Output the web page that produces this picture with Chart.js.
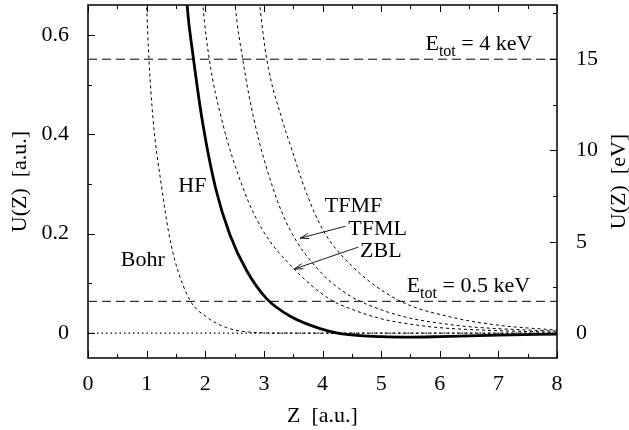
<!DOCTYPE html>
<html>
<head>
<meta charset="utf-8">
<script src="https://cdn.jsdelivr.net/npm/chart.js@4.4.1/dist/chart.umd.min.js"></script>
<style>
  html, body { margin: 0; padding: 0; background: #fff; }
</style>
</head>
<body>
<canvas id="chart" width="629" height="430"></canvas>
<script>
// axes
const xTicks = [0, 1, 2, 3, 4, 5, 6, 7, 8];
const xMinorTicks = [0.5, 1.5, 2.5, 3.5, 4.5, 5.5, 6.5, 7.5];
const yTicksAu = [0, 0.2, 0.4, 0.6];
const yMinorAu = [0.1, 0.3, 0.5];
const yTicksEv = [0, 5, 10, 15];
const yMinorEv = [2.5, 7.5, 12.5, 17.5];
const AU_TO_EV = 27.211;

// potentials, Z [a.u.] vs U [a.u.]
const bohrZ = [0.96, 1.00, 1.04, 1.11, 1.26, 1.37, 1.48, 1.74, 2.03, 2.34, 2.76, 3.4, 8.0];
const bohrU = [0.80, 0.66, 0.55, 0.43, 0.29, 0.207, 0.147, 0.066, 0.032, 0.012, 0.002, 0.0, 0.0];

const hfZ = [1.62, 1.69, 1.79, 1.96, 2.18, 2.42, 2.71, 3.05, 3.45, 3.96, 4.3, 5.0, 5.5, 6.0, 7.0, 8.0];
const hfU = [0.80, 0.66, 0.56, 0.42, 0.29, 0.198, 0.125, 0.069, 0.034, 0.009, -0.001, -0.007, -0.008, -0.007, -0.004, -0.002];

const zblZ = [1.88, 1.96, 2.07, 2.28, 2.65, 2.98, 3.50, 4.1, 4.5, 5.0, 5.5, 6.0, 7.0, 8.0];
const zblU = [0.80, 0.66, 0.55, 0.43, 0.29, 0.207, 0.131, 0.07, 0.048, 0.029, 0.018, 0.011, 0.005, 0.002];

const tfmlZ = [2.42, 2.51, 2.64, 2.83, 3.16, 3.45, 3.95, 4.47, 5.0, 5.5, 6.0, 6.5, 7.0, 8.0];
const tfmlU = [0.80, 0.66, 0.55, 0.43, 0.29, 0.207, 0.125, 0.075, 0.047, 0.03, 0.02, 0.013, 0.009, 0.004];

const tfmfZ = [2.82, 2.93, 3.05, 3.31, 3.48, 3.70, 4.01, 4.52, 5.3, 6.2, 7.0, 8.0];
const tfmfU = [0.80, 0.66, 0.55, 0.43, 0.368, 0.29, 0.207, 0.133, 0.066, 0.032, 0.016, 0.006];

// total energy levels [a.u.] (4 keV, 0.5 keV)
const energyLevels = [0.551, 0.064];

function pts(zs, us) { return zs.map((z, i) => ({ x: z, y: us[i] })); }
function hline(v) { return [{ x: 0, y: v }, { x: 8, y: v }]; }

const serif = '"Liberation Serif", "DejaVu Serif", serif';
const FS = 22;

const curveStyle = {
    borderColor: '#000', borderWidth: 1, borderDash: [3, 3],
    pointRadius: 0, cubicInterpolationMode: 'monotone', fill: false
};

const datasets = [
    { label: 'zero', data: hline(0), borderColor: '#000', borderWidth: 1.2, borderDash: [1.5, 3], pointRadius: 0 },
    { label: '4 keV', data: hline(energyLevels[0]), borderColor: '#000', borderWidth: 1, borderDash: [9, 5], pointRadius: 0 },
    { label: '0.5 keV', data: hline(energyLevels[1]), borderColor: '#000', borderWidth: 1, borderDash: [9, 5], pointRadius: 0 },
    { label: 'Bohr', data: pts(bohrZ, bohrU), ...curveStyle },
    { label: 'ZBL', data: pts(zblZ, zblU), ...curveStyle },
    { label: 'TFML', data: pts(tfmlZ, tfmlU), ...curveStyle },
    { label: 'TFMF', data: pts(tfmfZ, tfmfU), ...curveStyle },
    { label: 'HF', data: pts(hfZ, hfU), borderColor: '#000', borderWidth: 2.8,
      pointRadius: 0, cubicInterpolationMode: 'monotone', fill: false },
];

// text labels in data coords
const labels = [
    { t: 'HF', x: 1.54, y: 0.283 },
    { t: 'Bohr', x: 0.56, y: 0.135 },
    { t: 'TFMF', x: 4.04, y: 0.243 },
    { t: 'TFML', x: 4.44, y: 0.197 },
    { t: 'ZBL', x: 4.64, y: 0.153 },
];
const arrows = [
    { x0: 4.39, y0: 0.215, x1: 3.62, y1: 0.191 },
    { x0: 4.61, y0: 0.173, x1: 3.52, y1: 0.129 },
];
const energyLabels = [
    { v: '4 keV', x: 7.58, y: 0.569 },
    { v: '0.5 keV', x: 7.54, y: 0.082 },
];

const framePlugin = {
    id: 'frame',
    afterDatasetsDraw(chart) {
        const { ctx, chartArea: a, scales } = chart;
        const sx = scales.x, sy = scales.y, sy2 = scales.y2;
        ctx.save();
        ctx.strokeStyle = '#000';
        ctx.lineWidth = 1.5;
        ctx.strokeRect(a.left, a.top, a.right - a.left, a.bottom - a.top);

        ctx.lineWidth = 1;
        ctx.beginPath();
        const tickX = (vals, len) => vals.forEach(v => {
            const p = Math.round(sx.getPixelForValue(v)) + 0.5;
            ctx.moveTo(p, a.bottom); ctx.lineTo(p, a.bottom - len);
            ctx.moveTo(p, a.top); ctx.lineTo(p, a.top + len);
        });
        tickX(xTicks, 7); tickX(xMinorTicks, 4);
        const tickL = (vals, len) => vals.forEach(v => {
            const p = Math.round(sy.getPixelForValue(v)) + 0.5;
            ctx.moveTo(a.left, p); ctx.lineTo(a.left + len, p);
        });
        tickL(yTicksAu, 7); tickL(yMinorAu, 4);
        const tickR = (vals, len) => vals.forEach(v => {
            const p = Math.round(sy2.getPixelForValue(v)) + 0.5;
            ctx.moveTo(a.right, p); ctx.lineTo(a.right - len, p);
        });
        tickR(yTicksEv, 7); tickR(yMinorEv, 4);
        ctx.stroke();

        // curve labels
        ctx.fillStyle = '#000';
        ctx.font = FS + 'px ' + serif;
        ctx.textBaseline = 'alphabetic';
        ctx.textAlign = 'left';
        labels.forEach(l => ctx.fillText(l.t, sx.getPixelForValue(l.x), sy.getPixelForValue(l.y)));

        // arrows
        arrows.forEach(r => {
            const x0 = sx.getPixelForValue(r.x0), y0 = sy.getPixelForValue(r.y0);
            const x1 = sx.getPixelForValue(r.x1), y1 = sy.getPixelForValue(r.y1);
            const ang = Math.atan2(y1 - y0, x1 - x0);
            ctx.beginPath();
            ctx.lineWidth = 0.9;
            ctx.moveTo(x0, y0); ctx.lineTo(x1, y1);
            ctx.moveTo(x1, y1);
            ctx.lineTo(x1 - 9 * Math.cos(ang - 0.3), y1 - 9 * Math.sin(ang - 0.3));
            ctx.moveTo(x1, y1);
            ctx.lineTo(x1 - 9 * Math.cos(ang + 0.3), y1 - 9 * Math.sin(ang + 0.3));
            ctx.stroke();
        });

        // E_tot labels, right aligned
        energyLabels.forEach(l => {
            const right = sx.getPixelForValue(l.x), base = sy.getPixelForValue(l.y);
            const big = FS + 'px ' + serif, small = Math.round(FS * 0.72) + 'px ' + serif;
            ctx.font = big; const wE = ctx.measureText('E').width;
            const rest = ' = ' + l.v; const wR = ctx.measureText(rest).width;
            ctx.font = small; const wS = ctx.measureText('tot').width;
            let x = right - wE - wS - wR;
            ctx.font = big; ctx.fillText('E', x, base); x += wE;
            ctx.font = small; ctx.fillText('tot', x, base + 6); x += wS;
            ctx.font = big; ctx.fillText(rest, x, base);
        });

        // right axis title, reads bottom to top
        ctx.font = FS + 'px ' + serif;
        ctx.translate(619, (a.top + a.bottom) / 2);
        ctx.rotate(-Math.PI / 2);
        ctx.textAlign = 'center';
        ctx.textBaseline = 'middle';
        ctx.fillText('U(Z)  [eV]', 0, 0);
        ctx.restore();
    }
};

const tickFont = { family: serif, size: FS };
const noPad = s => { s.paddingTop = 0; s.paddingBottom = 0; s.paddingLeft = 0; s.paddingRight = 0; };

new Chart(document.getElementById('chart'), {
    type: 'line',
    data: { datasets },
    options: {
        responsive: false,
        animation: false,
        devicePixelRatio: 1,
        layout: { padding: { top: 5, left: 0, right: 0, bottom: 0 } },
        plugins: { legend: { display: false }, tooltip: { enabled: false } },
        scales: {
            x: {
                type: 'linear', min: 0, max: 8,
                grid: { display: false }, border: { display: false },
                afterBuildTicks: s => { s.ticks = xTicks.map(v => ({ value: v })); },
                afterFit: s => { s.height = 72; noPad(s); },
                ticks: { color: '#000', font: tickFont, padding: 5, maxRotation: 0,
                         callback: v => String(v) },
                title: { display: true, text: 'Z  [a.u.]', color: '#000', font: tickFont,
                         padding: { top: 0, bottom: 1 } }
            },
            y: {
                type: 'linear', position: 'left', min: -0.05, max: 0.66,
                grid: { display: false }, border: { display: false },
                afterBuildTicks: s => { s.ticks = yTicksAu.map(v => ({ value: v })); },
                afterFit: s => { s.width = 88; noPad(s); },
                ticks: { color: '#000', font: tickFont, padding: 11,
                         callback: v => String(v) },
                title: { display: true, text: 'U(Z)  [a.u.]', color: '#000', font: tickFont,
                         padding: { top: 7, bottom: 0 } }
            },
            y2: {
                type: 'linear', position: 'right', min: -0.05 * AU_TO_EV, max: 0.66 * AU_TO_EV,
                grid: { display: false }, border: { display: false },
                afterBuildTicks: s => { s.ticks = yTicksEv.map(v => ({ value: v })); },
                afterFit: s => { s.width = 72; noPad(s); },
                ticks: { color: '#000', font: tickFont, padding: 11,
                         callback: v => String(v) }
            }
        }
    },
    plugins: [framePlugin]
});
</script>
</body>
</html>
